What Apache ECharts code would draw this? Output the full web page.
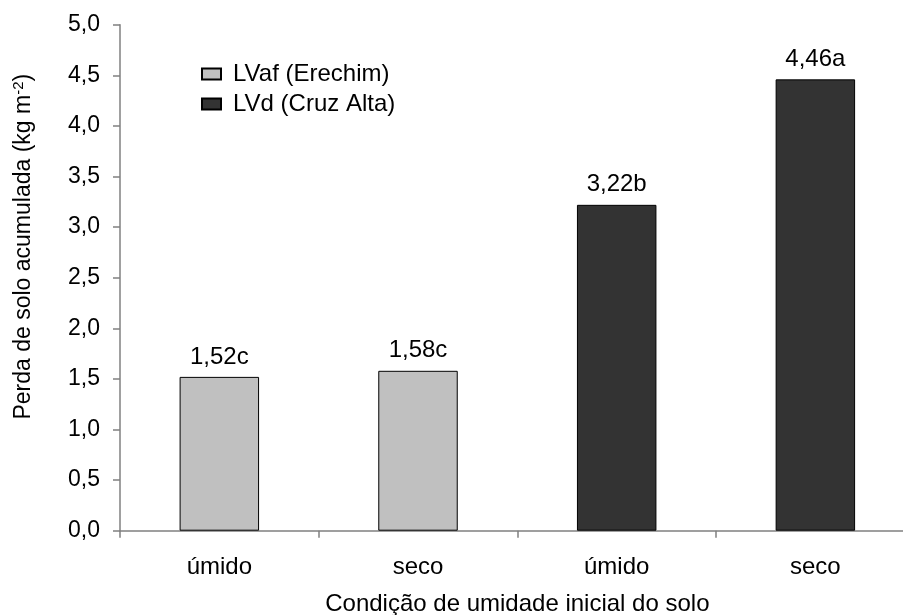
<!DOCTYPE html>
<html>
<head>
<meta charset="utf-8">
<script src="https://cdn.jsdelivr.net/npm/echarts@6/dist/echarts.min.js"></script>
<style>html,body{margin:0;padding:0;background:#fff}#c{width:903px;height:615px}</style>
</head>
<body>
<div id="c"></div>
<script>
const categories = ['úmido', 'seco', 'úmido', 'seco'];
const seriesNames = ['LVaf (Erechim)', 'LVd (Cruz Alta)'];
const lvafValues = [1.52, 1.58, null, null];
const lvdValues = [null, null, 3.22, 4.46];
const letters = ['c', 'c', 'b', 'a'];
const yTicks = [0, 0.5, 1, 1.5, 2, 2.5, 3, 3.5, 4, 4.5, 5];

const FONT = 'Liberation Sans, Arial, sans-serif';
const fmt = (v, d) => v.toFixed(d).replace('.', ',');

const labelCfg = {
  show: true,
  position: 'top',
  distance: 8,
  color: '#000',
  fontFamily: FONT,
  fontSize: 24,
  formatter: p => fmt(p.value, 2) + letters[p.dataIndex]
};

const chart = echarts.init(document.getElementById('c'));
chart.setOption({
  animation: false,
  backgroundColor: '#fff',
  textStyle: { fontFamily: FONT },
  grid: { left: 120, top: 24.7, bottom: 615 - 530.7, right: -11.7, containLabel: false, outerBoundsMode: 'none' },
  legend: {
    orient: 'vertical',
    left: 201,
    top: 62,
    padding: 0,
    icon: 'rect',
    itemWidth: 19,
    itemHeight: 11,
    itemGap: 6,
    textStyle: { fontFamily: FONT, fontSize: 24, color: '#000', lineHeight: 24, padding: [0, 0, 0, 7] },
    data: seriesNames
  },
  xAxis: {
    type: 'category',
    data: categories,
    axisLine: { lineStyle: { color: '#808080', width: 1.5 } },
    axisTick: { show: true, length: 7, lineStyle: { color: '#808080', width: 1.5 } },
    axisLabel: { color: '#000', fontFamily: FONT, fontSize: 24, margin: 25 },
    name: 'Condição de umidade inicial do solo',
    nameLocation: 'middle',
    nameGap: 62,
    nameTextStyle: { color: '#000', fontFamily: FONT, fontSize: 24 }
  },
  yAxis: {
    type: 'value',
    min: yTicks[0],
    max: yTicks[yTicks.length - 1],
    interval: 0.5,
    splitLine: { show: false },
    axisLine: { show: true, lineStyle: { color: '#808080', width: 1.5 } },
    axisTick: { show: true, length: 7, lineStyle: { color: '#808080', width: 1.5 } },
    axisLabel: { color: '#000', fontFamily: FONT, fontSize: 23, margin: 20, formatter: v => fmt(v, 1) },
    name: 'Perda de solo acumulada (kg m{sup|-2})',
    nameLocation: 'middle',
    nameGap: 84,
    nameTextStyle: {
      color: '#000', fontFamily: FONT, fontSize: 23,
      padding: [0, 0, 0, 62],
      rich: { sup: { fontSize: 15, verticalAlign: 'top', padding: [0, 0, 10, 0], color: '#000', fontFamily: FONT } }
    }
  },
  series: [
    {
      name: seriesNames[0],
      type: 'bar',
      data: lvafValues,
      barWidth: '40%',
      barGap: '-100%',
      itemStyle: { color: '#c0c0c0', borderColor: '#000', borderWidth: 1 },
      label: labelCfg
    },
    {
      name: seriesNames[1],
      type: 'bar',
      data: lvdValues,
      barWidth: '40%',
      barGap: '-100%',
      itemStyle: { color: '#333333', borderColor: '#000', borderWidth: 1 },
      label: labelCfg
    }
  ]
});
</script>
</body>
</html>
